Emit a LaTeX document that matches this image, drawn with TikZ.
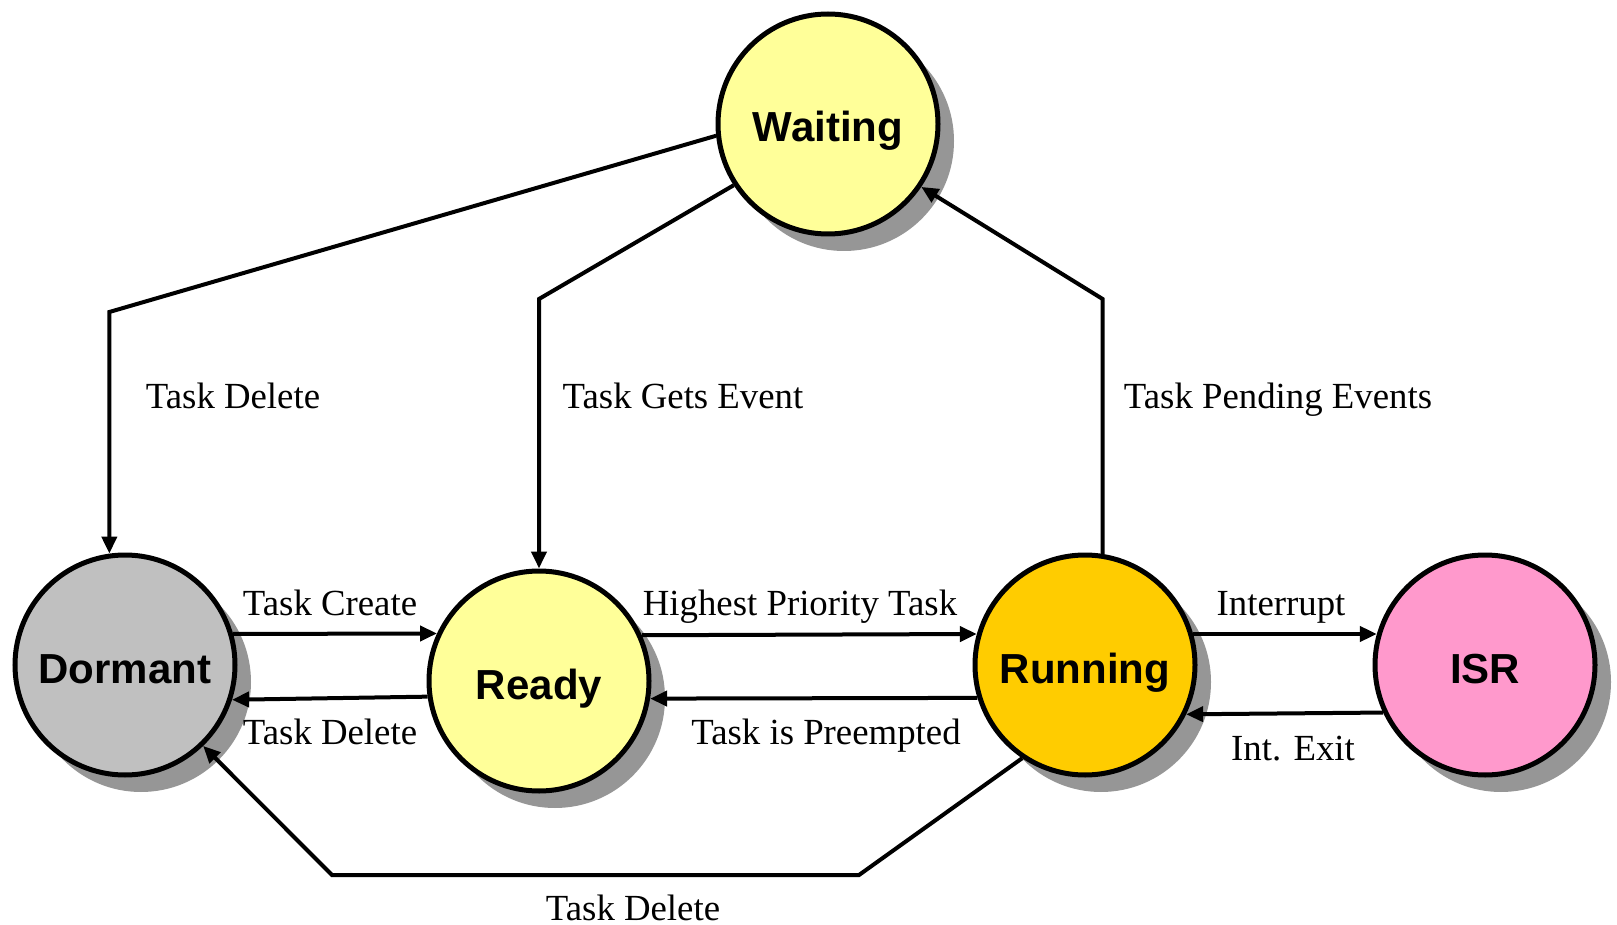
\documentclass[tikz,border=0pt]{standalone}
\usepackage{fontspec}
\setmainfont{Liberation Serif}
\newfontfamily\statefont{Liberation Sans}
\usetikzlibrary{arrows.meta,shadows}
\definecolor{dormantgray}{RGB}{192,192,192}
\definecolor{paleyellow}{RGB}{255,255,153}
\definecolor{runorange}{RGB}{255,204,0}
\definecolor{isrpink}{RGB}{255,153,204}
\definecolor{shadowgray}{RGB}{150,150,150}
\begin{document}
\begin{tikzpicture}[x=0.5pt,y=-0.5pt,
  state/.style={circle, draw=black, line width=2.5pt, minimum size=110pt, inner sep=0pt,
    text height=18pt, text depth=0pt,
    font=\statefont\bfseries\fontsize{21}{25}\selectfont,
    drop shadow={shadow xshift=8pt, shadow yshift=-8.5pt, fill=shadowgray, opacity=1}},
  trans/.style={line width=2pt, -{Triangle[length=8.5pt,width=7.5pt]}},
  lbl/.style={font=\fontsize{18.4}{22}\selectfont, inner sep=0pt, anchor=base}]
\useasboundingbox (0,0) rectangle (1617,925);

% task states
\node[state, fill=paleyellow]  (waiting) at (828,124) {Waiting};
\node[state, fill=dormantgray] (dormant) at (125,665) {Dormant};
\node[state, fill=paleyellow]  (ready)   at (539,681) {Ready};
\node[state, fill=runorange]   (running) at (1085,665) {Running};
\node[state, fill=isrpink]     (isr)     at (1485,665) {ISR};

% bends of the long transitions
\coordinate (wd) at (dormant.98.7 |- 0,312);
\coordinate (wr) at (ready.north |- 0,299);
\coordinate (rw) at (running.81.8 |- 0,299);
\coordinate (rd1) at (859,875);
\coordinate (rd2) at (332,875);

% transitions from and to the waiting state
\draw[trans] (waiting.186.7) -- (wd) -- (dormant.98.7);
\draw[trans] (waiting.213.7) -- (wr) -- (ready.north);
\draw[trans] (running.81.8) -- (rw) -- (waiting.326.6);

% transitions along the row of states
\draw[trans] (dormant.16) -- (ready.155.2);
\draw[trans] (ready.188.7) -- (dormant.342.9);
\draw[trans] (ready.24.8) -- (running.164);
\draw[trans] (running.197.1) -- (ready.351.3);
\draw[trans] (running.16) -- (isr.164);
\draw[trans] (isr.205.9) -- (running.334.1);
\draw[trans] (running.236.9) -- (rd1) -- (rd2) -- (dormant.314.3);

% transition labels
\node[lbl] (l1)  at (233,408)  {Task Delete};
\node[lbl] (l2)  at (683,408)  {Task Gets Event};
\node[lbl] (l3)  at (1278,408) {Task Pending Events};
\node[lbl] (l4)  at (330,615)  {Task Create};
\node[lbl] (l5)  at (330,744)  {Task Delete};
\node[lbl] (l6)  at (800,615)  {Highest Priority Task};
\node[lbl] (l7)  at (826,744)  {Task is Preempted};
\node[lbl] (l8)  at (1281,615) {Interrupt};
\node[lbl] (l9)  at (1293,760) {Int. Exit};
\node[lbl] (l10) at (633,920)  {Task Delete};
\end{tikzpicture}
\end{document}
